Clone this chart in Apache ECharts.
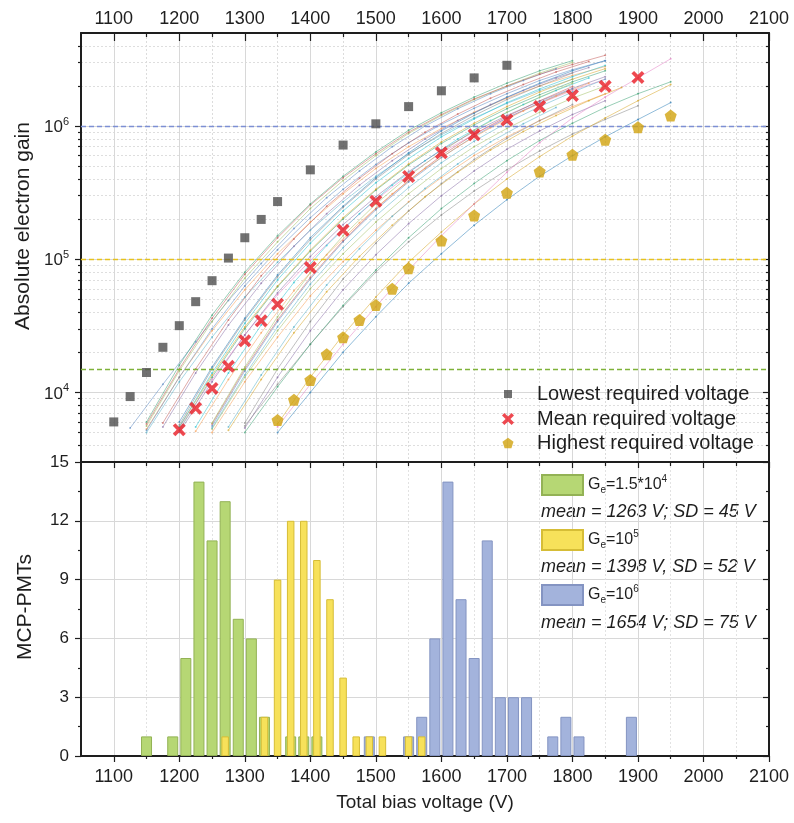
<!DOCTYPE html>
<html><head><meta charset="utf-8">
<script src="https://cdn.jsdelivr.net/npm/echarts@6/dist/echarts.min.js"></script>
<style>html,body{margin:0;padding:0;background:#fff}#c{width:794px;height:823px}</style>
</head><body><div id="c"></div>
<script>
// ---------- axis ticks ----------
const xMajorTicks = [1100,1200,1300,1400,1500,1600,1700,1800,1900,2000,2100];
const xMinorTicks = [1150,1250,1350,1450,1550,1650,1750,1850,1950,2050];
const gainMajorTicks = [1e4,1e5,1e6];
const gainMinorTicks = [4e3,5e3,6e3,7e3,8e3,9e3,2e4,3e4,4e4,5e4,6e4,7e4,8e4,9e4,2e5,3e5,4e5,5e5,6e5,7e5,8e5,9e5,2e6,3e6,4e6];
const thresholdGains = [1e6, 1e5, 1.5e4];
const thresholdColors = ['#7d8fd4', '#e6c21e', '#7fb23a'];

// ---------- required-voltage markers ----------
const lowestV = [1100,1125,1150,1175,1200,1225,1250,1275,1300,1325,1350,1400,1450,1500,1550,1600,1650,1700];
const lowestG = [6.0e3,9.3e3,1.41e4,2.18e4,3.17e4,4.8e4,6.9e4,1.02e5,1.45e5,1.99e5,2.71e5,4.69e5,7.2e5,1.04e6,1.40e6,1.84e6,2.3e6,2.86e6];
const meanV = [1200,1225,1250,1275,1300,1325,1350,1400,1450,1500,1550,1600,1650,1700,1750,1800,1850,1900];
const meanG = [5.24e3,7.6e3,1.07e4,1.57e4,2.44e4,3.45e4,4.59e4,8.65e4,1.65e5,2.73e5,4.18e5,6.3e5,8.6e5,1.11e6,1.40e6,1.70e6,1.99e6,2.32e6];
const highestV = [1350,1375,1400,1425,1450,1475,1500,1525,1550,1600,1650,1700,1750,1800,1850,1900,1950];
const highestG = [6.2e3,8.8e3,1.24e4,1.93e4,2.59e4,3.5e4,4.53e4,6.0e4,8.56e4,1.38e5,2.13e5,3.15e5,4.56e5,6.1e5,7.9e5,9.8e5,1.2e6];

// ---------- individual gain curves (50 V steps from start voltage) ----------
const curveStart = [1125,1150,1150,1150,1150,1175,1200,1200,1200,1200,1200,1225,1250,1250,1250,1250,1275,1300,1300,1300,1350,1350,1350,1200,1150,1250,1225,1175,1250,1200,1300,1150,1275];
const curveGain = [
 [5.4e3,1.15e4,2.4e4,4.9e4,9.3e4,1.7e5,2.9e5,4.6e5,7.0e5,1.0e6,1.35e6,1.75e6,2.2e6,2.7e6],
 [5.6e3,1.45e4,3.4e4,7.2e4,1.35e5,2.4e5,3.9e5,6.0e5,8.8e5,1.2e6,1.58e6,2.0e6,2.5e6,3.0e6],
 [5.3e3,1.3e4,2.9e4,5.9e4,1.1e5,1.9e5,3.1e5,4.8e5,7.0e5,9.6e5,1.27e6,1.62e6,2.0e6,2.4e6,2.8e6],
 [5.8e3,1.5e4,3.6e4,7.7e4,1.45e5,2.55e5,4.1e5,6.2e5,9.0e5,1.22e6,1.6e6,2.0e6,2.45e6,2.9e6,3.4e6],
 [5.0e3,1.2e4,2.6e4,5.2e4,9.5e4,1.65e5,2.7e5,4.2e5,6.2e5,8.6e5,1.15e6,1.48e6,1.85e6,2.25e6],
 [5.5e3,1.4e4,3.2e4,6.6e4,1.25e5,2.2e5,3.6e5,5.5e5,8.0e5,1.1e6,1.45e6,1.85e6,2.3e6,2.75e6],
 [5.7e3,1.5e4,3.5e4,7.4e4,1.4e5,2.45e5,4.0e5,6.1e5,8.8e5,1.2e6,1.58e6,2.0e6,2.5e6],
 [5.2e3,1.3e4,3.0e4,6.2e4,1.15e5,2.0e5,3.3e5,5.1e5,7.4e5,1.02e6,1.35e6,1.72e6,2.15e6,2.6e6],
 [5.5e3,1.35e4,3.1e4,6.3e4,1.17e5,2.05e5,3.35e5,5.2e5,7.6e5,1.05e6,1.4e6,1.8e6,2.25e6,2.7e6],
 [6.0e3,1.55e4,3.6e4,7.6e4,1.45e5,2.5e5,4.1e5,6.3e5,9.2e5,1.25e6,1.65e6,2.1e6,2.6e6,3.1e6],
 [5.4e3,1.25e4,2.7e4,5.4e4,9.8e4,1.7e5,2.8e5,4.3e5,6.3e5,8.7e5,1.15e6,1.48e6,1.85e6,2.25e6],
 [5.5e3,1.4e4,3.2e4,6.7e4,1.27e5,2.2e5,3.6e5,5.5e5,8.0e5,1.1e6,1.45e6,1.85e6,2.3e6],
 [5.6e3,1.45e4,3.4e4,7.1e4,1.35e5,2.35e5,3.8e5,5.8e5,8.4e5,1.15e6,1.5e6,1.9e6],
 [5.3e3,1.3e4,2.9e4,6.0e4,1.1e5,1.9e5,3.1e5,4.8e5,7.0e5,9.6e5,1.27e6,1.62e6,2.0e6],
 [5.0e3,1.2e4,2.6e4,5.3e4,9.6e4,1.65e5,2.7e5,4.1e5,6.0e5,8.3e5,1.1e6,1.4e6,1.75e6],
 [5.8e3,1.5e4,3.5e4,7.3e4,1.38e5,2.4e5,3.9e5,6.0e5,8.7e5,1.18e6,1.55e6,1.98e6],
 [5.5e3,1.35e4,3.1e4,6.4e4,1.2e5,2.1e5,3.4e5,5.2e5,7.6e5,1.04e6,1.38e6],
 [5.4e3,1.3e4,2.9e4,5.9e4,1.08e5,1.85e5,3.0e5,4.6e5,6.7e5,9.2e5,1.22e6,1.55e6],
 [5.6e3,1.15e4,2.3e4,4.4e4,8.0e4,1.35e5,2.15e5,3.25e5,4.7e5,6.5e5,8.7e5,1.12e6,1.42e6],
 [5.0e3,1.1e4,2.3e4,4.5e4,8.3e4,1.45e5,2.4e5,3.7e5,5.5e5,7.8e5,1.05e6,1.38e6,1.75e6,2.15e6],
 [5.8e3,1.3e4,2.7e4,5.2e4,9.5e4,1.6e5,2.6e5,4.0e5,5.9e5,8.4e5,1.15e6,1.55e6,2.05e6],
 [5.0e3,1.0e4,2.0e4,3.7e4,6.6e4,1.1e5,1.8e5,2.8e5,4.2e5,6.0e5,8.3e5,1.12e6,1.5e6],
 [5.5e3,1.15e4,2.3e4,4.4e4,8.3e4,1.5e5,2.6e5,4.5e5,7.5e5,1.15e6,1.65e6,2.3e6,3.2e6],
 [5.5e3,1.4e4,3.3e4,7.0e4,1.32e5,2.3e5,3.75e5,5.7e5,8.3e5,1.13e6,1.5e6,1.9e6,2.35e6,2.85e6],
 [5.2e3,1.3e4,3.0e4,6.3e4,1.18e5,2.05e5,3.35e5,5.15e5,7.5e5,1.03e6,1.36e6,1.75e6,2.2e6,2.65e6,3.1e6],
 [5.9e3,1.55e4,3.7e4,7.9e4,1.5e5,2.6e5,4.2e5,6.4e5,9.3e5,1.27e6,1.65e6,2.1e6],
 [5.1e3,1.25e4,2.8e4,5.8e4,1.08e5,1.88e5,3.1e5,4.8e5,7.0e5,9.7e5,1.3e6,1.68e6,2.1e6],
 [5.9e3,1.5e4,3.5e4,7.5e4,1.42e5,2.5e5,4.05e5,6.2e5,9.0e5,1.23e6,1.62e6,2.05e6,2.55e6,3.05e6],
 [5.4e3,1.35e4,3.1e4,6.5e4,1.22e5,2.12e5,3.45e5,5.3e5,7.7e5,1.06e6,1.4e6,1.8e6,2.25e6],
 [5.0e3,1.2e4,2.7e4,5.6e4,1.05e5,1.82e5,2.95e5,4.55e5,6.6e5,9.1e5,1.2e6,1.54e6,1.92e6,2.35e6],
 [5.9e3,1.5e4,3.4e4,7.1e4,1.32e5,2.3e5,3.7e5,5.6e5,8.1e5,1.1e6,1.45e6],
 [6.0e3,1.6e4,3.8e4,8.0e4,1.5e5,2.6e5,4.2e5,6.4e5,9.3e5,1.26e6,1.65e6,2.1e6,2.6e6,3.1e6],
 [5.2e3,1.25e4,2.8e4,5.7e4,1.05e5,1.8e5,2.95e5,4.5e5,6.6e5,9.1e5,1.2e6,1.55e6,1.95e6]
];
const curveColors = ['#4f81bd','#9bbb59','#f79646','#c0504d','#4bacc6','#8064a2','#7f7f7f','#2c9c6a','#d4a017','#1f77b4','#e377c2','#17becf'];

// ---------- histograms (20 V bins) ----------
const greenV = [1150,1190,1210,1230,1250,1270,1290,1310,1330,1370,1390,1410];
const greenN = [1,1,5,14,11,13,7,6,2,1,1,1];
const yellowV = [1270,1330,1350,1370,1390,1410,1430,1450,1470,1490,1510,1550,1570];
const yellowN = [1,2,9,12,12,10,8,4,1,1,1,1,1];
const blueV = [1490,1550,1570,1590,1610,1630,1650,1670,1690,1710,1730,1770,1790,1810,1890];
const blueN = [1,1,2,6,14,8,5,11,3,3,3,1,2,1,2];

const histNames = ['G_e=1.5*10^4','G_e=10^5','G_e=10^6'];
const histRich = {'G_e=1.5*10^4':'{t|G}{sub|e}{t|=1.5*10}{sup|4}','G_e=10^5':'{t|G}{sub|e}{t|=10}{sup|5}','G_e=10^6':'{t|G}{sub|e}{t|=10}{sup|6}'};
const histStats = ['mean = 1263 V; SD = 45 V','mean = 1398 V, SD = 52 V','mean = 1654 V; SD = 75 V'];
const histColors = ['#b6d774','#f7e15a','#a3b3dc'];
const histBorders = ['#93b255','#d6bd36','#8494c2'];

const FF = '"Liberation Sans", Arial, sans-serif';
const TXT = '#1e1e1e';
const AX = '#1e1e1e';

const chart = echarts.init(document.getElementById('c'), null, {renderer:'canvas'});
const zip = (a,b)=>a.map((v,i)=>[v,b[i]]);

const gridTop = {left:81, top:33, width:688, height:429};
const gridBot = {left:81, top:462, width:688, height:294};

function xAx(grid, pos, ticks, opts) {
  return Object.assign({
    type:'value', gridIndex:grid, position:pos, min:1050, max:2100,
    axisLine:{show:false},
    axisTick:{show:true, customValues:ticks, inside:true, length:8, lineStyle:{color:AX, width:1.2}},
    axisLabel:{show:false, customValues:ticks},
    splitLine:{show:false}
  }, opts);
}

const xAxes = [
  xAx(0,'top',xMajorTicks,{
    axisLine:{show:true,lineStyle:{color:AX,width:2}},
    axisLabel:{show:true, customValues:xMajorTicks, fontSize:18, color:TXT, fontFamily:FF, margin:5, formatter:v=>String(v)},
    splitLine:{show:true,lineStyle:{color:'#d8d8d8',width:1}}
  }),
  xAx(0,'top',xMinorTicks,{axisTick:{show:true,customValues:xMinorTicks,inside:true,length:4,lineStyle:{color:AX,width:1.2}},
    splitLine:{show:true,lineStyle:{color:'#dcdcdc',width:1,type:[2,2]}}}),
  xAx(1,'bottom',xMajorTicks,{
    axisLine:{show:true,lineStyle:{color:AX,width:2}},
    axisTick:{show:true,customValues:xMajorTicks,inside:false,length:6,lineStyle:{color:AX,width:1.2}},
    axisLabel:{show:true, customValues:xMajorTicks, fontSize:18, color:TXT, fontFamily:FF, margin:12, formatter:v=>String(v)},
    splitLine:{show:true,lineStyle:{color:'#d8d8d8',width:1}}
  }),
  xAx(1,'bottom',xMinorTicks,{axisTick:{show:true,customValues:xMinorTicks,inside:false,length:3,lineStyle:{color:AX,width:1.2}},
    splitLine:{show:true,lineStyle:{color:'#e2e2e2',width:1,type:[2,2]}}}),
  xAx(1,'top',xMajorTicks,{axisLine:{show:true,lineStyle:{color:AX,width:2}},
    axisTick:{show:true,customValues:xMajorTicks,inside:true,length:6,lineStyle:{color:AX,width:1.2}}}),
  xAx(1,'top',xMinorTicks,{axisTick:{show:true,customValues:xMinorTicks,inside:true,length:4,lineStyle:{color:AX,width:1.2}}})
];

function yLog(pos, ticks, len, inside, opts) {
  return Object.assign({
    type:'log', gridIndex:0, position:pos, min:3000, max:5e6, logBase:10,
    axisLine:{show:false},
    axisTick:{show:true, customValues:ticks, inside:inside, length:len, lineStyle:{color:AX,width:1.2}},
    axisLabel:{show:false, customValues:ticks},
    splitLine:{show:false}
  }, opts);
}
const yAxes = [
  yLog('left', gainMajorTicks, 6, false, {
    axisLine:{show:true,lineStyle:{color:AX,width:2}},
    axisLabel:{show:true, customValues:gainMajorTicks, margin:12,
      formatter: v => '{b|10}{s|' + Math.round(Math.log10(v)) + '}',
      rich:{b:{fontSize:17,color:TXT,fontFamily:FF,verticalAlign:'bottom'},
            s:{fontSize:11,color:TXT,fontFamily:FF,verticalAlign:'bottom',padding:[0,0,9,0]}}},
    splitLine:{show:true,lineStyle:{color:'#d8d8d8',width:1}}
  }),
  yLog('left', gainMinorTicks, 3, false, {splitLine:{show:true,lineStyle:{color:'#dedede',width:1,type:[2,2]}}}),
  yLog('right', gainMajorTicks, 6, true, {axisLine:{show:true,lineStyle:{color:AX,width:2}}}),
  yLog('right', gainMinorTicks, 3, true, {}),
  {
    type:'value', gridIndex:1, position:'left', min:0, max:15, interval:3,
    axisLine:{show:true,lineStyle:{color:AX,width:2}},
    axisTick:{show:true,inside:false,length:6,lineStyle:{color:AX,width:1.2}},
    minorTick:{show:true,splitNumber:2,length:3,lineStyle:{color:AX,width:1.2}},
    axisLabel:{fontSize:17,color:TXT,fontFamily:FF,margin:12},
    splitLine:{show:true,lineStyle:{color:'#d8d8d8',width:1}}
  },
  {
    type:'value', gridIndex:1, position:'right', min:0, max:15, interval:3,
    axisLine:{show:true,lineStyle:{color:AX,width:2}},
    axisTick:{show:true,inside:true,length:6,lineStyle:{color:AX,width:1.2}},
    minorTick:{show:true,splitNumber:2,length:3,lineStyle:{color:AX,width:1.2}},
    axisLabel:{show:false}, splitLine:{show:false}
  }
];

const series = [];
curveGain.forEach((g, k) => {
  series.push({
    type:'line', xAxisIndex:0, yAxisIndex:0, silent:true, z:2,
    data: g.map((v,i)=>[curveStart[k] + 50*i, v]),
    lineStyle:{width:0.9, color:curveColors[k % curveColors.length], opacity:0.55},
    itemStyle:{color:curveColors[k % curveColors.length], opacity:0.6},
    symbol:'circle', symbolSize:2, showSymbol:true, animation:false
  });
});

const SQ_PATH = 'path://M0,0L10,0L10,10L0,10Z';
const X_PATH = 'path://M2,0L5,3L8,0L10,2L7,5L10,8L8,10L5,7L2,10L0,8L3,5L0,2Z';
const PENT_PATH = 'path://M5,0L10,3.7L8.1,9.6L1.9,9.6L0,3.7Z';

series.push({
  name:'Lowest required voltage', type:'scatter', xAxisIndex:0, yAxisIndex:0, z:5,
  data: zip(lowestV, lowestG), symbol:SQ_PATH, symbolSize:9,
  itemStyle:{color:'#4d4d4d'}, animation:false
});
series.push({
  name:'Mean required voltage', type:'scatter', xAxisIndex:0, yAxisIndex:0, z:6,
  data: zip(meanV, meanG), symbol:X_PATH, symbolSize:13,
  itemStyle:{color:'#ea1c24'}, animation:false,
  markLine:{
    silent:true, symbol:'none', label:{show:false}, animation:false,
    lineStyle:{type:[5,3], width:1.4},
    data: thresholdGains.map((g,i)=>({yAxis:g, lineStyle:{color:thresholdColors[i], type:[5,3], width:1.4}}))
  }
});
series.push({
  name:'Highest required voltage', type:'scatter', xAxisIndex:0, yAxisIndex:0, z:5,
  data: zip(highestV, highestG), symbol:PENT_PATH, symbolSize:12,
  itemStyle:{color:'#d1a20e'}, animation:false
});

series.push({
  name:histNames[0], type:'bar', xAxisIndex:2, yAxisIndex:4, barWidth:11, barGap:'-100%', z:2,
  data: zip(greenV, greenN),
  itemStyle:{color:histColors[0], borderColor:histBorders[0], borderWidth:1}, animation:false
});
series.push({
  name:histNames[2], type:'bar', xAxisIndex:2, yAxisIndex:4, barWidth:11, barGap:'-100%', z:2,
  data: zip(blueV, blueN),
  itemStyle:{color:histColors[2], borderColor:histBorders[2], borderWidth:1}, animation:false
});
series.push({
  name:histNames[1], type:'bar', xAxisIndex:4, yAxisIndex:4, barWidth:7.5, z:3,
  data: zip(yellowV, yellowN),
  itemStyle:{color:histColors[1], borderColor:histBorders[1], borderWidth:1}, animation:false
});

function legItem(name, size, top) {
  return {data:[name], left:503 - size/2, top:top, itemWidth:size, itemHeight:size,
    textStyle:{fontSize:20, color:TXT, fontFamily:FF, padding:[0,0,0, 24 - size/2]}, selectedMode:false};
}
const legends = [
  legItem('Lowest required voltage', 8, 379),
  legItem('Mean required voltage', 12, 404),
  legItem('Highest required voltage', 11, 428),
  {data:histNames, left:536, top:469, orient:'vertical', itemWidth:41, itemHeight:20, itemGap:33, icon:'rect',
   selectedMode:false, formatter: n => histRich[n],
   textStyle:{color:TXT, fontFamily:FF, rich:{
     t:{fontSize:16,color:TXT,fontFamily:FF,verticalAlign:'bottom',padding:[0,0,3,0]},
     sub:{fontSize:10,color:TXT,fontFamily:FF,verticalAlign:'bottom'},
     sup:{fontSize:10,color:TXT,fontFamily:FF,verticalAlign:'bottom',padding:[0,0,11,0]}}}}
];

const statY = [513, 568, 624];
const graphics = histStats.map((s,i)=>({
  type:'text', left:541, top:statY[i]-10,
  style:{text:s, font:'italic 18px ' + FF, fill:TXT}
}));
graphics.push({type:'text', x:23, y:226, rotation:Math.PI/2,
  style:{text:'Absolute electron gain', font:'21px ' + FF, fill:TXT, align:'center', verticalAlign:'middle'}});
graphics.push({type:'text', x:25, y:607, rotation:Math.PI/2,
  style:{text:'MCP-PMTs', font:'21px ' + FF, fill:TXT, align:'center', verticalAlign:'middle'}});
graphics.push({type:'text', x:425, y:803,
  style:{text:'Total bias voltage (V)', font:'19px ' + FF, fill:TXT, align:'center', verticalAlign:'middle'}});

chart.setOption({
  backgroundColor:'#fff',
  animation:false,
  grid:[gridTop, gridBot],
  xAxis:xAxes, yAxis:yAxes, series:series, legend:legends, graphic:graphics
});
</script></body></html>
